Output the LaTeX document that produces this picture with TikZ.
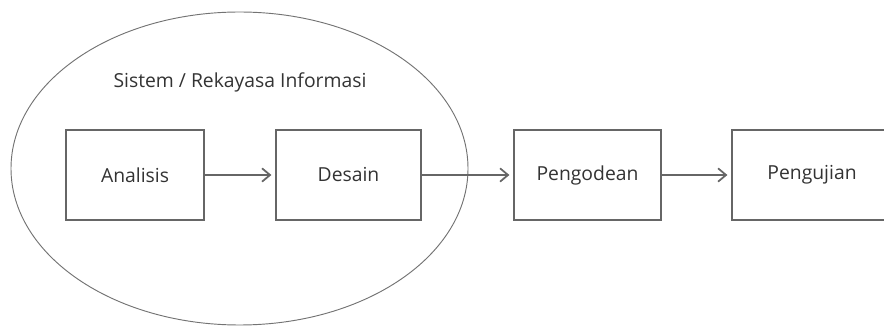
\documentclass[tikz,border=0pt]{standalone}
\usepackage{fontspec}
\setmainfont{Open Sans}
\usetikzlibrary{arrows.meta,shapes.geometric}

\begin{document}
\begin{tikzpicture}[%
	x=0.75pt, y=-0.75pt,
	every node/.style = {font=\fontsize{14.5}{17}\selectfont, text=black!80},
	tahap/.style = {shape=rectangle, draw=black!60, line width=0.9pt, minimum height=67.5pt},
	alur/.style = {draw=black!60, line width=0.9pt, -{Straight Barb[length=6pt,width=10pt,line width=1.3pt]}, shorten >=3pt},
	lingkup/.style = {shape=ellipse, draw=black!55, line width=0.7pt, minimum width=342.75pt, minimum height=234.75pt}
	]
  \useasboundingbox (0,0) rectangle (884,327);
  % lingkup sistem
  \node [lingkup] (sistem) at (239.5,168.5) {};
  \node (judul) at (240,82) {Sistem / Rekayasa Informasi};
  % tahapan
  \node [tahap, minimum width=103.5pt] (analisis) at (135,175) {Analisis};
  \node [tahap, minimum width=108.75pt] (desain) at (348.5,175) {Desain};
  \node [tahap, minimum width=110.25pt] (kode) at (587.5,175) {Pengodean};
  \node [tahap, minimum width=120pt] (uji) at (812,175) {Pengujian};
  \draw [alur] (analisis) -- (desain);
  \draw [alur] (desain) -- (kode);
  \draw [alur] (kode) -- (uji);
\end{tikzpicture}
\end{document}
